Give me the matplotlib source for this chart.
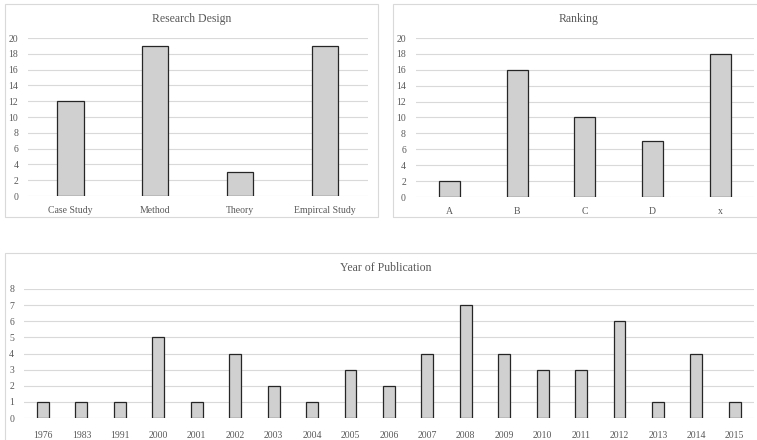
import matplotlib.pyplot as plt
from matplotlib.patches import Rectangle

plt.rcParams['font.family'] = ['Liberation Serif', 'DejaVu Serif']

# Data
design_labels = ['Case Study', 'Method', 'Theory', 'Empircal Study']
design_counts = [12, 19, 3, 19]

ranking_labels = ['A', 'B', 'C', 'D', 'x']
ranking_counts = [2, 16, 10, 7, 18]

years = ['1976', '1983', '1991', '2000', '2001', '2002', '2003', '2004', '2005', '2006',
         '2007', '2008', '2009', '2010', '2011', '2012', '2013', '2014', '2015']
year_counts = [1, 1, 1, 5, 1, 4, 2, 1, 3, 2, 4, 7, 4, 3, 3, 6, 1, 4, 1]

W, H = 757, 440
TEXT = '#595959'
GRID = '#d9d9d9'
FILL = '#d0d0d0'
EDGE = '#262626'

fig = plt.figure(figsize=(W / 100, H / 100), dpi=100)


def px_axes(x0, y0, x1, y1):
    # pixel box (top-left origin) -> figure axes
    return fig.add_axes([x0 / W, 1 - y1 / H, (x1 - x0) / W, (y1 - y0) / H])


def frame(x0, y0, x1, y1):
    fig.patches.append(Rectangle((x0 / W, 1 - y1 / H), (x1 - x0) / W, (y1 - y0) / H,
                                 transform=fig.transFigure, fill=False,
                                 edgecolor=GRID, linewidth=0.8))


def bar_panel(ax, labels, counts, ymax, step, xpad):
    x = range(len(labels))
    ax.bar(x, counts, width=0.31, color=FILL, edgecolor=EDGE, linewidth=0.9, zorder=3)
    ax.set_xlim(-0.5, len(labels) - 0.5)
    ax.set_ylim(0, ymax)
    ax.set_yticks(range(0, ymax + 1, step))
    ax.set_xticks(list(x))
    ax.set_xticklabels(labels)
    ax.grid(axis='y', color=GRID, linewidth=0.8, zorder=0)
    for s in ax.spines.values():
        s.set_visible(False)
    ax.tick_params(length=0, colors=TEXT, labelsize=7)
    ax.tick_params(axis='x', pad=xpad)
    ax.tick_params(axis='y', pad=7)
    ax.set_facecolor('none')


# Research design
frame(5, 4, 378, 217)
ax1 = px_axes(28, 38, 367.5, 196)
bar_panel(ax1, design_labels, design_counts, 20, 2, 7)
fig.text(191.5 / W, 1 - 19 / H, 'Research Design', ha='center', va='center',
         fontsize=8.5, color=TEXT)

# Ranking
frame(393, 4, 765, 217)
ax2 = px_axes(415.6, 38, 754, 197)
bar_panel(ax2, ranking_labels, ranking_counts, 20, 2, 7)
fig.text(579 / W, 1 - 19 / H, 'Ranking', ha='center', va='center',
         fontsize=8.5, color=TEXT)

# Year of publication
frame(5, 253, 767, 450)
ax3 = px_axes(23.8, 289, 754, 418)
bar_panel(ax3, years, year_counts, 8, 1, 9)
fig.text(386 / W, 1 - 268 / H, 'Year of Publication', ha='center', va='center',
         fontsize=8.5, color=TEXT)

fig.savefig('out.png', dpi=100)
